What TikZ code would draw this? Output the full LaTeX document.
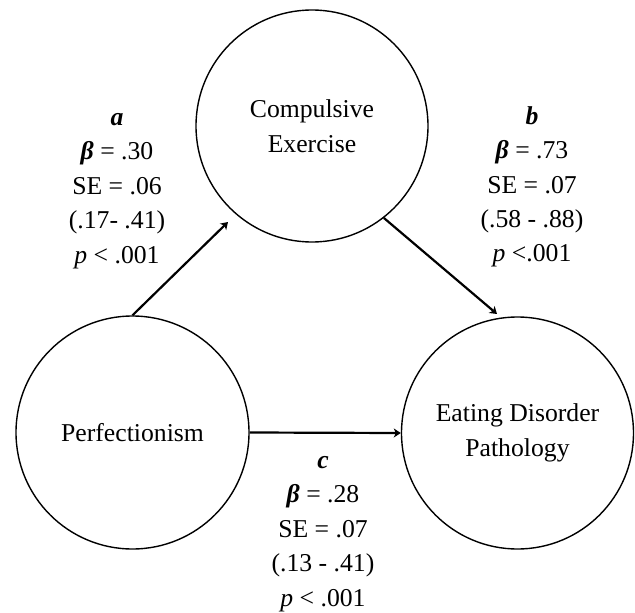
\documentclass[tikz,border=0pt]{standalone}
\usepackage{fontspec}
\setmainfont{Liberation Serif}
\usetikzlibrary{arrows.meta}
\begin{document}
\begin{tikzpicture}[x=1pt,y=-1pt,
  var/.style={circle,draw,line width=1.4pt,inner sep=0pt,align=center,
    font=\fontsize{25.7}{34.5}\selectfont},
  path/.style={line width=2.2pt,-{Stealth[length=7pt,width=9pt,inset=2pt]}},
  lab/.style={inner sep=0pt,anchor=base,font=\fontsize{25.7}{34.5}\selectfont}]
\useasboundingbox (0,0) rectangle (635,613);
\node[var,minimum size=232pt] (C) at (312,126) {Compulsive\\Exercise};
\node[var,minimum size=233pt] (P) at (132.5,432.5) {Perfectionism};
\node[var,minimum size=232pt] (E) at (517.5,433) {Eating Disorder\\Pathology};
\coordinate (atip) at (228,222);
\coordinate (btip) at (497,314);
\draw[path] (P.north) -- (atip);
\draw[path] (C.-52) -- (btip);
\draw[path] (P.east) -- (E.west);
\node[lab] (la) at (117,125) {\setlength{\tabcolsep}{0pt}\begin{tabular}[t]{c}
\textbf{\textit{a}}\\ \textbf{\textit{β}} = .30\\ SE = .06\\ (.17- .41)\\ \textit{p} < .001\end{tabular}};
\node[lab] (lb) at (532,124) {\setlength{\tabcolsep}{0pt}\begin{tabular}[t]{c}
\textbf{\textit{b}}\\ \textbf{\textit{β}} = .73\\ SE = .07\\ (.58 - .88)\\ \textit{p} <.001\end{tabular}};
\node[lab] (lc) at (323,468) {\setlength{\tabcolsep}{0pt}\begin{tabular}[t]{c}
\textbf{\textit{c}}\\ \textbf{\textit{β}} = .28\\ SE = .07\\ (.13 - .41)\\ \textit{p} < .001\end{tabular}};
\end{tikzpicture}
\end{document}
